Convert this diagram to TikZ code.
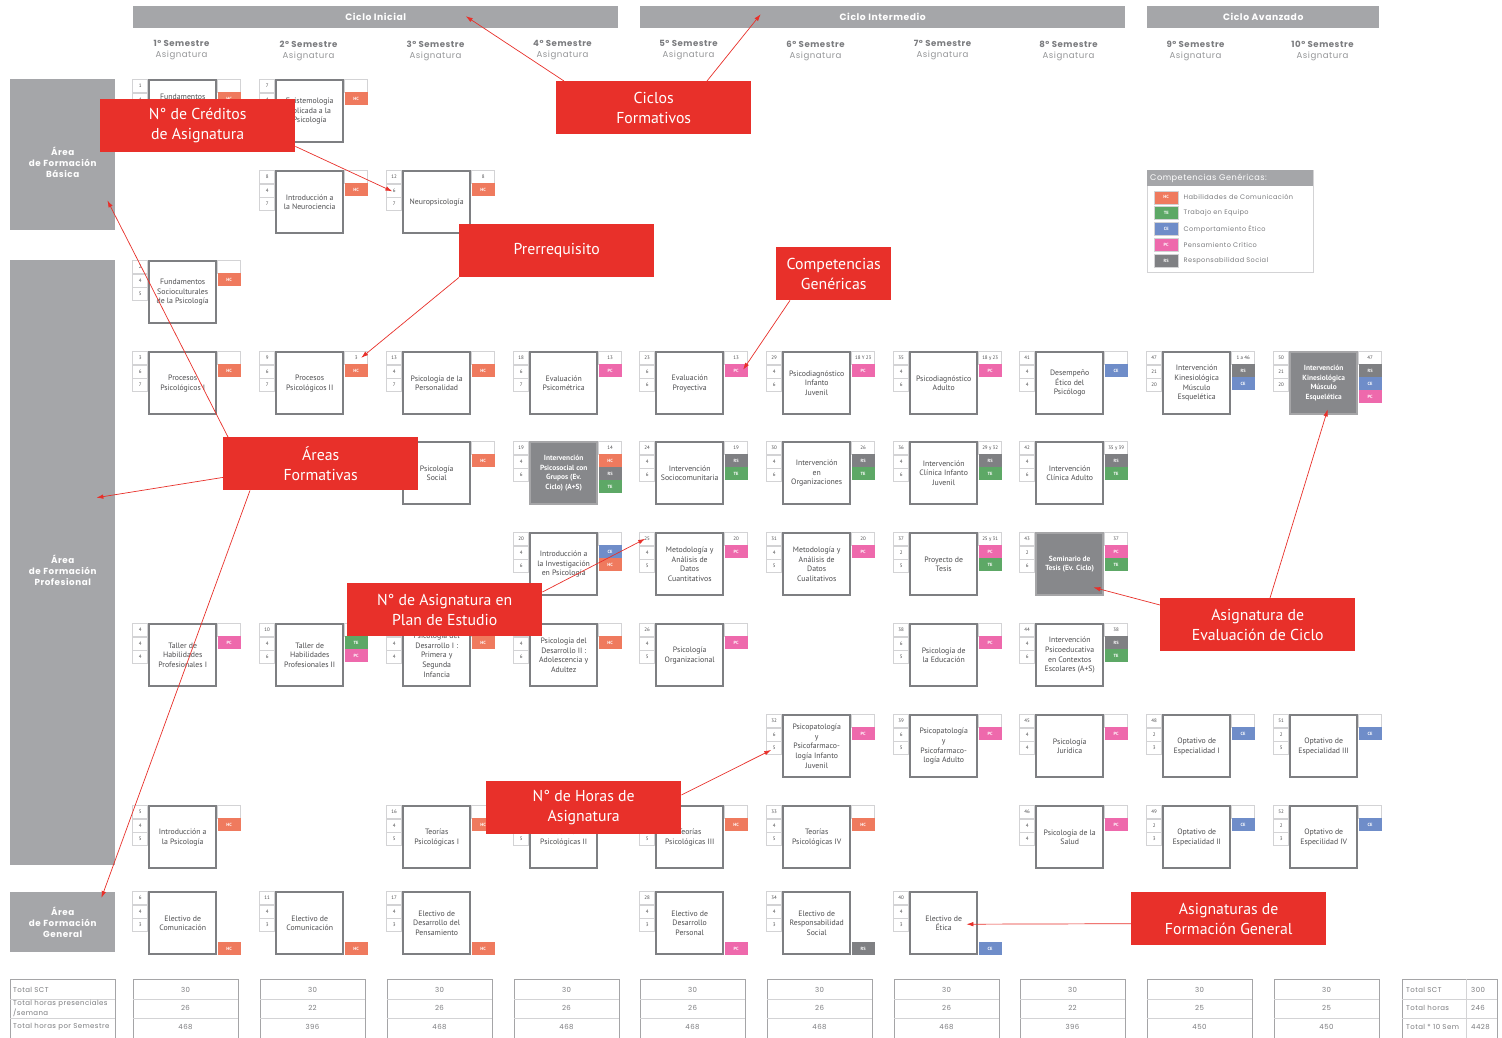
\documentclass[tikz,border=0pt]{standalone}
\usepackage{fontspec}
\setmainfont{PT Sans}
\newfontfamily\gothic[LetterSpace=6]{Poppins}
\usetikzlibrary{positioning,calc,arrows.meta}

\definecolor{barra}{HTML}{A5A6A9}
\definecolor{borde}{HTML}{7E7F82}
\definecolor{oscuro}{HTML}{87888B}
\definecolor{linea}{HTML}{D3D3D5}
\definecolor{texto}{HTML}{4D4D4F}
\definecolor{gristit}{HTML}{7B7C7F}
\definecolor{HC}{HTML}{EF7A5E}
\definecolor{TE}{HTML}{5DA866}
\definecolor{CE}{HTML}{6F8DC9}
\definecolor{PC}{HTML}{EE69AC}
\definecolor{RS}{HTML}{7F8083}
\definecolor{rojo}{HTML}{E8302A}

% asignatura: [estilo]{nombre}{posicion}{num}{creditos}{horas}{prerreq}{texto}{competencias}
\newcommand{\curso}[9][curso]{%
  \node[#1, anchor=north west] (#2) at #3 {#8};
  \node[numcell, anchor=north east] (#2-n) at (#2.north west) {#4};
  \node[numcell, below=0pt of #2-n] (#2-c) {#5};
  \node[numcell, below=0pt of #2-c] (#2-h) {#6};
  \node[precell, anchor=north west] (#2-p) at (#2.north east) {#7};
  \foreach \cp [count=\i] in {#9}
    \node[comp, fill=\cp, anchor=north west] (#2-k\i) at ($(#2.north east)+(0,13*\i)$) {\cp};
}
% electivo: {nombre}{posicion}{num}{creditos}{horas}{texto}{competencia}
\newcommand{\electivo}[7]{%
  \node[curso, anchor=north west] (#1) at #2 {#6};
  \node[numcell, anchor=north east] (#1-n) at (#1.north west) {#3};
  \node[numcell, below=0pt of #1-n] (#1-c) {#4};
  \node[numcell, below=0pt of #1-c] (#1-h) {#5};
  \node[comp, fill=#7, anchor=south west] (#1-k) at (#1.south east) {#7};
}

\begin{document}
\begin{tikzpicture}[x=1pt, y=-1pt,
    curso/.style   = {draw=borde, line width=2.4pt, fill=white,
                      minimum width=67, minimum height=62, inner sep=1pt,
                      align=center, text=texto,
                      font=\fontsize{7.8}{9.8}\selectfont},
    cursoev/.style = {curso, fill=oscuro, draw=borde!70!white, text=white,
                      font=\bfseries\fontsize{7.4}{9.6}\selectfont},
    numcell/.style = {draw=linea, line width=0.6pt, fill=white,
                      minimum width=15, minimum height=13, inner sep=0pt,
                      text=texto, font=\fontsize{5}{5.5}\selectfont},
    precell/.style = {numcell, minimum width=23},
    comp/.style    = {minimum width=23, minimum height=13, inner sep=0pt,
                      text=white, font=\bfseries\fontsize{4.5}{5}\selectfont},
    area/.style    = {fill=barra, minimum width=105, anchor=north west},
    areatxt/.style = {text=white, align=center,
                      font=\gothic\bfseries\fontsize{8.8}{11}\selectfont},
    ciclo/.style   = {fill=barra, text=white, minimum height=22, anchor=north west,
                      font=\gothic\bfseries\fontsize{9.2}{10}\selectfont},
    semestre/.style= {align=center, text=gristit,
                      font=\gothic\fontsize{8.6}{11}\selectfont},
    callout/.style = {fill=rojo, text=white, minimum width=195, minimum height=53,
                      align=center, inner sep=2pt, anchor=north west,
                      font=\fontsize{15.8}{20}\selectfont},
    flecha/.style  = {draw=rojo, line width=0.7pt, -{Latex[length=7pt,width=4.5pt]}},
    tabla/.style   = {draw=borde!70!white, line width=1pt},
    tablin/.style  = {draw=linea, line width=0.8pt},
    totlab/.style  = {anchor=west, inner sep=0pt, text=gristit,
                      font=\gothic\fontsize{7}{8}\selectfont},
    total/.style   = {inner sep=0pt, text=gristit, font=\gothic\fontsize{7}{8}\selectfont}]

\fill[white] (0,0) rectangle (1502,1038);
\useasboundingbox (0,0) rectangle (1502,1038);

% ciclos y semestres
\node[ciclo, minimum width=485] (ciclo1) at (133,6) {Ciclo Inicial};
\node[ciclo, minimum width=485] (ciclo2) at (640,6) {Ciclo Intermedio};
\node[ciclo, minimum width=232] (ciclo3) at (1147,6) {Ciclo Avanzado};

\foreach \x [count=\i] in {148,275,402,529,655,782,909,1035,1162,1289}
  \node[semestre] (sem\i) at (\x+33.5,50.5) {{\bfseries\i° Semestre}\\{\color{gristit!80}Asignatura}};

% areas
\node[area, minimum height=151] (basica) at (10,79) {};
\node[areatxt] (basica-t) at ($(basica.center)+(0,8)$) {Área\\de Formación\\Básica};
\node[area, minimum height=605] (profesional) at (10,260) {};
\node[areatxt] (profesional-t) at ($(profesional.center)+(0,8)$) {Área\\de Formación\\Profesional};
\node[area, minimum height=60] (general) at (10,892) {};
\node[areatxt] (general-t) at (general.center) {Área\\de Formación\\General};

% leyenda
\node[draw=linea, line width=1.2pt, fill=white, minimum width=166, minimum height=102,
      anchor=north west] (leg) at (1147,170) {};
\node[fill=barra, text=white, text width=160, inner sep=3pt, minimum height=16,
      anchor=north west, font=\gothic\fontsize{8.2}{9}\selectfont] (leg-h) at (leg.north west) {Competencias Genéricas:};
\foreach \cod/\nom [count=\i] in {HC/Habilidades de Comunicación, TE/Trabajo en Equipo,
    CE/Comportamiento Ético, PC/Pensamiento Crítico, RS/Responsabilidad Social}
{
  \node[comp, fill=\cod, draw=linea, minimum width=24, anchor=west] (leg-\cod) at (1154,181.5+15.8*\i) {\cod};
  \node[right=5pt of leg-\cod, inner sep=0pt, text=gristit,
        font=\gothic\fontsize{6.6}{7}\selectfont] (leg-t\i) {\nom};
}

% fila A y B
\curso{fund}{(148,79)}{1}{4}{6}{}{Fundamentos\\\mbox{}\\\mbox{}\\\mbox{}}{HC}
\curso{epis}{(275,79)}{7}{4}{6}{}{Epistemología\\Aplicada a la\\Psicología}{HC}
\curso{neuroc}{(275,170)}{8}{4}{7}{}{Introducción a\\la Neurociencia}{HC}
\curso{neuro}{(402,170)}{12}{6}{7}{8}{Neuropsicología}{HC}
\curso{fsoc}{(148,260)}{2}{4}{5}{}{Fundamentos\\Socioculturales\\de la Psicología}{HC}

% fila D
\curso{pp1}{(148,351)}{3}{6}{7}{}{Procesos\\Psicológicos I}{HC}
\curso{pp2}{(275,351)}{9}{6}{7}{3}{Procesos\\Psicológicos II}{HC}
\curso{pers}{(402,351)}{13}{4}{7}{}{Psicología de la\\Personalidad}{HC}
\curso{psicom}{(529,351)}{18}{6}{7}{13}{Evaluación\\Psicométrica}{PC}
\curso{proy}{(655,351)}{23}{6}{6}{13}{Evaluación\\Proyectiva}{PC}
\curso{pdij}{(782,351)}{29}{4}{6}{18 Y 23}{Psicodiagnóstico\\Infanto\\Juvenil}{PC}
\curso{pda}{(909,351)}{35}{4}{6}{18 y 23}{Psicodiagnóstico\\Adulto}{PC}
\curso{etico}{(1035,351)}{41}{4}{4}{}{Desempeño\\Ético del\\Psicólogo}{CE}
\curso{kin1}{(1162,351)}{47}{21}{20}{1 a 46}{Intervención\\Kinesiológica\\Músculo\\Esquelética}{RS,CE}
\curso[cursoev]{kin2}{(1289,351)}{50}{21}{20}{47}{Intervención\\Kinesiológica\\Músculo\\Esquelética}{RS,CE,PC}

% fila E
\curso{social}{(402,441)}{14}{4}{6}{}{Psicología\\Social}{HC}
\curso[cursoev]{grupos}{(529,441)}{19}{4}{6}{14}{Intervención\\Psicosocial con\\Grupos (Ev.\\Ciclo) (A+S)}{HC,RS,TE}
\curso{socio}{(655,441)}{24}{4}{6}{19}{Intervención\\Sociocomunitaria}{RS,TE}
\curso{orgs}{(782,441)}{30}{4}{6}{26}{Intervención\\en\\Organizaciones}{RS,TE}
\curso{cij}{(909,441)}{36}{4}{6}{29 y 32}{Intervención\\Clínica Infanto\\Juvenil}{RS,TE}
\curso{ca}{(1035,441)}{42}{4}{6}{35 y 39}{Intervención\\Clínica Adulto}{RS,TE}

% fila F
\curso{invest}{(529,532)}{20}{4}{6}{}{Introducción a\\la Investigación\\en Psicología}{CE,HC}
\curso{met1}{(655,532)}{25}{4}{5}{20}{Metodología y\\Análisis de\\Datos\\Cuantitativos}{PC}
\curso{met2}{(782,532)}{31}{4}{5}{20}{Metodología y\\Análisis de\\Datos\\Cualitativos}{PC}
\curso{tesis1}{(909,532)}{37}{2}{5}{25 y 31}{Proyecto de\\Tesis}{PC,TE}
\curso[cursoev]{tesis2}{(1035,532)}{43}{2}{6}{37}{Seminario de\\Tesis (Ev. Ciclo)}{PC,TE}

% fila G
\curso{taller1}{(148,623)}{4}{4}{4}{}{Taller de\\Habilidades\\Profesionales I}{PC}
\curso{taller2}{(275,623)}{10}{4}{6}{}{Taller de\\Habilidades\\Profesionales II}{TE,PC}
\curso{des1}{(402,623)}{15}{4}{4}{}{Psicología del\\Desarrollo I :\\Primera y\\Segunda\\Infancia}{HC}
\curso{des2}{(529,623)}{21}{4}{6}{}{Psicología del\\Desarrollo II :\\Adolescencia y\\Adultez}{HC}
\curso{org}{(655,623)}{26}{4}{5}{}{Psicología\\Organizacional}{PC}
\curso{edu}{(909,623)}{38}{6}{5}{}{Psicología de\\la Educación}{PC}
\curso{escol}{(1035,623)}{44}{4}{6}{38}{Intervención\\Psicoeducativa\\en Contextos\\Escolares (A+S)}{RS,TE}

% fila H
\curso{ppij}{(782,714)}{32}{6}{5}{}{Psicopatología\\y\\Psicofarmaco-\\logía Infanto\\Juvenil}{PC}
\curso{ppa}{(909,714)}{39}{6}{5}{}{Psicopatología\\y\\Psicofarmaco-\\logía Adulto}{PC}
\curso{jur}{(1035,714)}{45}{4}{4}{}{Psicología\\Jurídica}{PC}
\curso{opt1}{(1162,714)}{48}{2}{3}{}{Optativo de\\Especialidad I}{CE}
\curso{opt3}{(1289,714)}{51}{2}{5}{}{Optativo de\\Especialidad III}{CE}

% fila I
\curso{intro}{(148,805)}{5}{4}{5}{}{Introducción a\\la Psicología}{HC}
\curso{teo1}{(402,805)}{16}{4}{5}{}{Teorías\\Psicológicas I}{HC}
\curso{teo2}{(529,805)}{22}{4}{5}{}{Teorías\\Psicológicas II}{HC}
\curso{teo3}{(655,805)}{27}{4}{5}{}{Teorías\\Psicológicas III}{HC}
\curso{teo4}{(782,805)}{33}{4}{5}{}{Teorías\\Psicológicas IV}{HC}
\curso{salud}{(1035,805)}{46}{4}{4}{}{Psicología de la\\Salud}{PC}
\curso{opt2}{(1162,805)}{49}{2}{3}{}{Optativo de\\Especialidad II}{CE}
\curso{opt4}{(1289,805)}{52}{2}{3}{}{Optativo de\\Especilidad IV}{CE}

% electivos
\electivo{el1}{(148,891)}{6}{4}{3}{Electivo de\\Comunicación}{HC}
\electivo{el2}{(275,891)}{11}{4}{3}{Electivo de\\Comunicación}{HC}
\electivo{el3}{(402,891)}{17}{4}{3}{Electivo de\\Desarrollo del\\Pensamiento}{HC}
\electivo{el4}{(655,891)}{28}{4}{3}{Electivo de\\Desarrollo\\Personal}{PC}
\electivo{el5}{(782,891)}{34}{4}{3}{Electivo de\\Responsabilidad\\Social}{RS}
\electivo{etica}{(909,891)}{40}{4}{3}{Electivo de\\Ética}{CE}

% totales
\draw[tabla] (10,979) rectangle (115,1038);
\draw[tablin] (10,999) -- (115,999) (10,1018) -- (115,1018);
\node[totlab] (tl1) at (13,990) {Total SCT};
\node[totlab, align=left] (tl2) at (13,1008.5) {Total horas presenciales\\/semana};
\node[totlab] (tl3) at (13,1027) {Total horas por Semestre};
\foreach \x/\h/\s [count=\i] in {148/26/468, 275/22/396, 402/26/468, 529/26/468, 655/26/468,
    782/26/468, 909/26/468, 1035/22/396, 1162/25/450, 1289/25/450}
{
  \draw[tabla] (\x-15,979) rectangle (\x+90,1038);
  \draw[tablin] (\x-15,999) -- (\x+90,999) (\x-15,1018) -- (\x+90,1018);
  \node[total] (sct\i) at (\x+37.5,990) {30};
  \node[total] (hor\i) at (\x+37.5,1008) {\h};
  \node[total] (hsem\i) at (\x+37.5,1027) {\s};
}
\draw[tabla] (1402,979) rectangle (1497,1038);
\draw[tablin] (1402,999) -- (1497,999) (1402,1018) -- (1497,1018) (1466,979) -- (1466,1038);
\node[totlab] (tr1) at (1406,990) {Total SCT};
\node[totlab] (tr2) at (1406,1008) {Total horas};
\node[totlab] (tr3) at (1406,1027) {Total * 10 Sem};
\node[totlab] (tv1) at (1471,990) {300};
\node[totlab] (tv2) at (1471,1008) {246};
\node[totlab] (tv3) at (1471,1027) {4428};

% llamadas
\node[callout] (cCreditos) at (100,99) {N° de Créditos\\de Asignatura};
\node[callout] (cCiclos) at (556,81) {Ciclos\\Formativos};
\node[callout] (cPrereq) at (459,224) {Prerrequisito};
\node[callout, minimum width=115] (cComp) at (776,247) {Competencias\\Genéricas};
\node[callout] (cAreas) at (223,437) {Áreas\\Formativas};
\node[callout] (cNum) at (347,583) {N° de Asignatura en\\Plan de Estudio};
\node[callout] (cHoras) at (486,781) {N° de Horas de\\Asignatura};
\node[callout] (cEval) at (1160,598) {Asignatura de\\Evaluación de Ciclo};
\node[callout] (cGeneral) at (1131,892) {Asignaturas de\\Formación General};

\draw[flecha] ($(cCreditos.south east)+(0,-6)$) -- ($(neuro-c.west)+(6,1)$);
\draw[flecha] ($(cCiclos.north west)+(8,0)$) -- ($(ciclo1.center)+(90,-1)$);
\draw[flecha] ($(cCiclos.north west)+(151,0)$) -- ($(ciclo2.center)+(-122,-3)$);
\draw[flecha] (cPrereq.south west) -- ($(pp2-p.center)+(5,0)$);
\draw[flecha] ($(cComp.south west)+(14,0)$) -- ($(proy-k1.center)+(7,-1)$);
\draw[flecha] ($(cAreas.south west)+(0,-13)$) -- ($(profesional.east)+(-19,-65)$);
\draw[flecha] ($(cAreas.north west)+(5,0)$) -- ($(basica.south east)+(-8,-30)$);
\draw[flecha] ($(cAreas.south west)+(27,0)$) -- ($(general.north east)+(-14,6)$);
\draw[flecha] ($(cNum.north east)+(0,9)$) -- ($(met1-n.center)+(-2,0)$);
\draw[flecha] ($(cHoras.north east)+(0,14)$) -- ($(ppij-h.center)+(-3,2)$);
\draw[flecha] ($(cEval.north west)+(0,7)$) -- ($(tesis2.south east)+(-11,-9)$);
\draw[flecha] ($(cEval.north west)+(110,0)$) -- ($(kin2.south)+(4,-6)$);
\draw[flecha] ($(cGeneral.west)+(0,5)$) -- ($(etica.east)+(-12,1)$);

\end{tikzpicture}
\end{document}
